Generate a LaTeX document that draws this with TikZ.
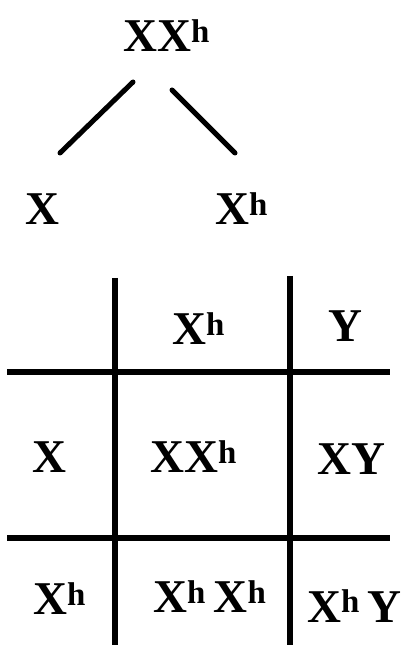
\documentclass[tikz,border=0pt]{standalone}
\usepackage{fontspec}
\setmainfont{Liberation Serif}
\usepackage{tikz}
\newcommand{\Xsup}{X\textsuperscript{h}}
\tikzset{
  gene/.style={anchor=base west,inner sep=0pt,font=\fontsize{47}{50}\selectfont\bfseries},
  branch/.style={line width=5pt,line cap=round},
  grid line/.style={line width=6pt}
}
\begin{document}
\begin{tikzpicture}[x=1pt,y=1pt]
        \useasboundingbox[fill=white](0,0) rectangle (407,645);
        % parent and gametes
        \node[gene] (parent) at (123, 593) {X\Xsup};
        \node[gene] (gx) at (25, 420) {X};
        \node[gene] (gxh) at (215, 420) {\Xsup};
        \coordinate (la) at (133, 563);
        \coordinate (lb) at (60, 492);
        \coordinate (ra) at (172, 555);
        \coordinate (rb) at (235, 492);
        \draw[branch](la) -- (lb);
        \draw[branch](ra) -- (rb);
        % punnett square
        \draw[grid line](115, 367) -- (115, 0);
        \draw[grid line](290, 369) -- (290, 0);
        \draw[grid line](7, 273) -- (390, 273);
        \draw[grid line](7, 107) -- (390, 107);
        \node[gene] (colxh) at (172, 300) {\Xsup};
        \node[gene] (coly) at (328, 303) {Y};
        \node[gene] (rowx) at (32, 172) {X};
        \node[gene] (xxh) at (150, 172) {X\Xsup};
        \node[gene] (xy) at (317, 170) {XY};
        \node[gene] (rowxh) at (33, 30) {\Xsup};
        \node[gene] (xhxh) at (153, 32) {\Xsup\,\Xsup};
        \node[gene] (xhy) at (307, 23) {\Xsup\,Y};
    \end{tikzpicture}
\end{document}
